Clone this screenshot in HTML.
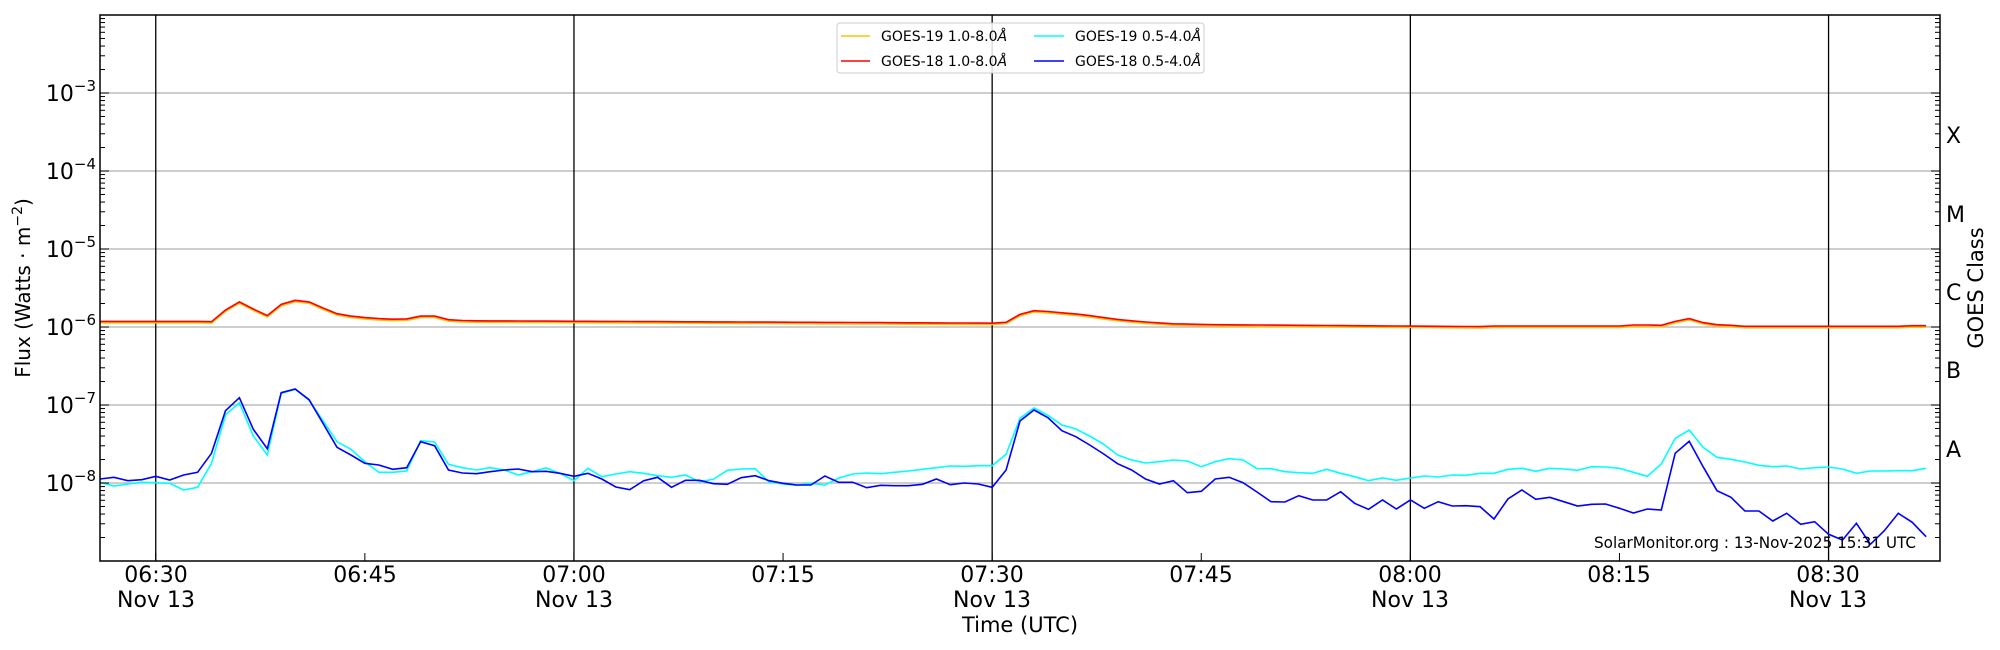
<!DOCTYPE html>
<html><head><meta charset="utf-8"><style>
html,body{margin:0;padding:0;background:#fff;}
svg{display:block;font-family:"DejaVu Sans","Liberation Sans",sans-serif;}
</style></head><body>
<svg id="s" width="2000" height="650" viewBox="0 0 2000 650" xmlns="http://www.w3.org/2000/svg">
<rect width="2000" height="650" fill="#fff"/>
<g id="grid"></g>
<g id="data"></g>
<g id="axes"></g>
<rect x="100" y="15" width="1840" height="546" fill="none" stroke="#000" stroke-width="1.5"/>
<g font-size="22" fill="#000" text-anchor="middle">
<text x="156" y="582">06:30</text><text x="156" y="607">Nov 13</text>
<text x="365" y="582">06:45</text>
<text x="574" y="582">07:00</text><text x="574" y="607">Nov 13</text>
<text x="783" y="582">07:15</text>
<text x="992" y="582">07:30</text><text x="992" y="607">Nov 13</text>
<text x="1201" y="582">07:45</text>
<text x="1410" y="582">08:00</text><text x="1410" y="607">Nov 13</text>
<text x="1619" y="582">08:15</text>
<text x="1828" y="582">08:30</text><text x="1828" y="607">Nov 13</text>
<text x="1020" y="632" font-size="21">Time (UTC)</text>
</g>
<text transform="translate(30,288) rotate(-90)" font-size="20" text-anchor="middle">Flux (Watts · m<tspan dy="-8" font-size="14">−2</tspan><tspan dy="8">)</tspan></text>
<text transform="translate(1983,288) rotate(-90)" font-size="21" text-anchor="middle">GOES Class</text>
<g font-size="22">
<text x="1946" y="143">X</text><text x="1946" y="222">M</text><text x="1946" y="300">C</text><text x="1946" y="378">B</text><text x="1946" y="457">A</text>
</g>
<text x="1594" y="548" font-size="16" textLength="322" lengthAdjust="spacingAndGlyphs">SolarMonitor.org : 13-Nov-2025 15:31 UTC</text>
<g>
<rect x="837" y="23" width="367" height="50" rx="3" fill="#fff" fill-opacity="0.85" stroke="#ccc"/>
<line x1="841" y1="36" x2="870" y2="36" stroke="#ffc000" stroke-width="1.5"/>
<line x1="841" y1="61" x2="870" y2="61" stroke="#ff0000" stroke-width="1.5"/>
<line x1="1034" y1="36" x2="1064" y2="36" stroke="#00ffff" stroke-width="1.5"/>
<line x1="1064" y1="61" x2="1034" y2="61" stroke="#0000ff" stroke-width="1.5"/>
<g font-size="14">
<text x="881" y="41">GOES-19 1.0-8.0<tspan font-style="italic">Å</tspan></text>
<text x="881" y="66">GOES-18 1.0-8.0<tspan font-style="italic">Å</tspan></text>
<text x="1075" y="41">GOES-19 0.5-4.0<tspan font-style="italic">Å</tspan></text>
<text x="1075" y="66">GOES-18 0.5-4.0<tspan font-style="italic">Å</tspan></text>
</g>
</g>
</svg>
<script>
(function(){
var NS="http://www.w3.org/2000/svg";
function el(p,t,a){var e=document.createElementNS(NS,t);for(var k in a)e.setAttribute(k,a[k]);p.appendChild(e);return e;}
var grid=document.getElementById('grid'),axes=document.getElementById('axes'),data=document.getElementById('data');
function Y(lg){return 15+(-2-lg)*78;}
function X(m){return 100+13.94*m;}
for(var d=-8;d<=-3;d++){el(grid,'line',{x1:100,x2:1940,y1:Y(d),y2:Y(d),stroke:'#b0b0b0','stroke-width':1.2});}
[4,34,64,94,124].forEach(function(m){el(grid,'line',{x1:X(m),x2:X(m),y1:15,y2:561,stroke:'#000','stroke-width':1.3});});
for(var d=-9;d<-2;d++){
 for(var k=1;k<10;k++){
  var y=Y(d+Math.log10(k)); if(y<15)continue; var L=(k==1)?9:5;
  el(axes,'line',{x1:100,x2:100+L,y1:y,y2:y,stroke:'#000','stroke-width':1});
  el(axes,'line',{x1:1940,x2:1940-L,y1:y,y2:y,stroke:'#000','stroke-width':1});
 }
}
for(var d=-8;d<=-3;d++){
 var t=el(axes,'text',{x:96,y:Y(d)+8,'font-size':22,'text-anchor':'end'});
 t.textContent='10';
 var s=document.createElementNS(NS,'tspan');s.setAttribute('dy','-10');s.setAttribute('font-size','15');s.textContent='−'+(-d);t.appendChild(s);
}
for(var m=4;m<132;m+=15){el(axes,'line',{x1:X(m),x2:X(m),y1:561,y2:553,stroke:'#000','stroke-width':1});}
var blue=[357,352,362,359,349,360,345,337,280,152,113,208,266,98,87,119,190,262,285,310,315,328,323,245,257,330,339,341,335,330,327,335,334,340,349,340,357,381,389,362,352,382,361,361,
371,373,353,347,362,370,375,375,348,367,367,383,376,377,377,373,357,374,369,372,382,330,183,150,173,212,230,255,282,311,330,357,372,362,398,394,357,352,368,396,425,426,407,420,
420,395,430,448,420,447,420,445,425,438,437,440,477,417,390,418,412,425,438,433,432,445,459,447,450,280,244,320,392,412,453,453,483,460,493,485,523,540,490,553,512,460,487,530];
var cyan=[367,378,372,367,368,370,390,382,310,165,128,228,285,100,88,121,182,245,268,305,337,337,333,242,246,313,323,330,323,330,345,335,324,340,362,325,350,342,335,340,347,352,345,365,
358,331,327,326,366,372,376,370,375,354,342,339,341,337,333,328,323,318,319,317,317,283,175,144,166,195,207,228,253,285,300,309,305,300,303,320,305,296,300,326,326,335,338,340,
328,340,350,362,354,361,354,348,351,345,346,340,340,328,325,334,325,327,331,320,321,325,337,349,312,235,210,262,292,298,306,316,320,318,327,323,321,327,340,333,333,332,332,325];
function zpts(a){return a.map(function(v,i){return X(i).toFixed(1)+','+(360+v/3).toFixed(1);}).join(' ');}
var r=[];
for(var i=0;i<132;i++)r[i]=1.12;
var set={8:1.17,9:1.65,10:2.1,11:1.7,12:1.4,13:1.95,14:2.2,15:2.1,16:1.75,17:1.48,18:1.38,19:1.32,20:1.28,21:1.26,22:1.27,23:1.38,24:1.38,25:1.24,26:1.21,
65:1.15,66:1.45,67:1.62,68:1.58,69:1.52,70:1.47,71:1.4,72:1.32,73:1.25,74:1.2,75:1.16,76:1.13,77:1.1,78:1.09,79:1.08,
110:1.06,111:1.06,112:1.05,113:1.18,114:1.28,115:1.14,116:1.07,117:1.05};
for(var i=0;i<8;i++)r[i]=1.18;
for(var i=27;i<=64;i++)r[i]=1.2-0.08*(i-27)/37;
for(var i=80;i<100;i++)r[i]=1.07-0.06*(i-80)/20;
for(var i=100;i<110;i++)r[i]=1.03;
for(var i=118;i<132;i++)r[i]=1.02;
r[130]=1.04;r[131]=1.04;
for(var k in set)r[k]=set[k];
function rpts(f){return r.map(function(v,i){return X(i).toFixed(1)+','+Y(Math.log10(v*f*1e-6)).toFixed(1);}).join(' ');}
el(data,'polyline',{points:rpts(0.96),fill:'none',stroke:'#ffc000','stroke-width':1.6});
el(data,'polyline',{points:rpts(1),fill:'none',stroke:'#ff0000','stroke-width':1.6});
el(data,'polyline',{points:zpts(cyan),fill:'none',stroke:'#00ffff','stroke-width':1.6});
el(data,'polyline',{points:zpts(blue),fill:'none',stroke:'#0000ff','stroke-width':1.6});
})();
</script>
</body></html>
